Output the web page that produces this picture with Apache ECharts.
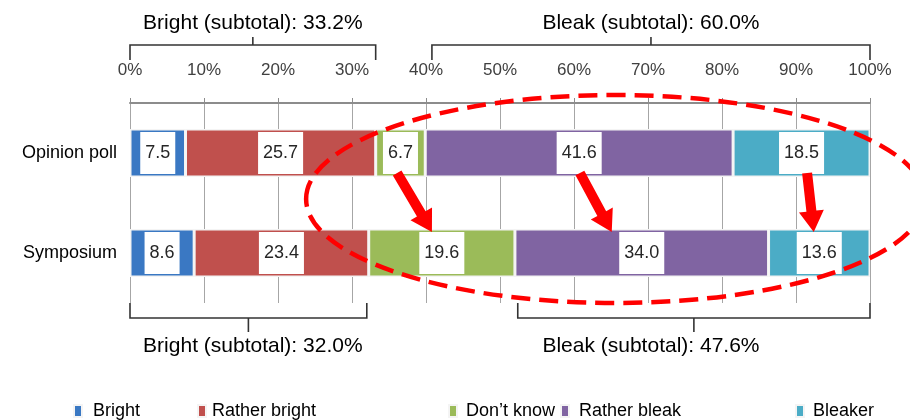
<!DOCTYPE html>
<html><head><meta charset="utf-8">
<script src="https://cdn.jsdelivr.net/npm/echarts@6/dist/echarts.min.js"></script>
<style>html,body{margin:0;padding:0;background:#fff}#c{width:910px;height:420px}</style>
</head><body><div id="c"></div>
<script>
// ---- data ----
const categories = ['Opinion poll', 'Symposium'];
const seriesNames = ['Bright', 'Rather bright', 'Don’t know', 'Rather bleak', 'Bleaker'];
const bright = [7.5, 8.6];
const ratherBright = [25.7, 23.4];
const dontKnow = [6.7, 19.6];
const ratherBleak = [41.6, 34.0];
const bleaker = [18.5, 13.6];
const xTicks = ['0%', '10%', '20%', '30%', '40%', '50%', '60%', '70%', '80%', '90%', '100%'];
const brightSubtotal = [33.2, 32.0];   // [Opinion poll, Symposium]
const bleakSubtotal = [60.0, 47.6];
// annotation arrows (percent positions: from Opinion poll row to Symposium row)
const arrowFrom = [36.1, 60.8, 91.5];
const arrowTo = [40.8, 65.1, 92.4];
// ellipse annotation (percent units)
const ellipseCenter = 65.6;
const ellipseHalfWidth = 41.8;

const colors = ['#3A78C3', '#C0504D', '#9BBB59', '#8064A2', '#4BACC6'];
const raw = [bright, ratherBright, dontKnow, ratherBleak, bleaker];
const totals = categories.map((c, i) => raw.reduce((s, arr) => s + arr[i], 0));
const SANS = "'Liberation Sans',Arial,Helvetica,sans-serif";

const chart = echarts.init(document.getElementById('c'), null, {renderer: 'canvas'});

const legendLeft = [73, 197, 448, 560, 795];
const legendGap = [6, 1, 4, 5, 4];

const option = {
  animation: false,
  backgroundColor: '#fff',
  color: colors,
  grid: {left: 130, right: 40, top: 103, bottom: 117, containLabel: false},
  xAxis: {
    type: 'value', position: 'top', min: 0, max: 100, interval: 10,
    axisLine: {show: true, lineStyle: {color: '#8c8c8c', width: 2}},
    axisTick: {show: true, length: 5, inside: false, lineStyle: {color: '#8c8c8c'}},
    splitLine: {show: true, lineStyle: {color: '#a6a6a6', width: 1}},
    axisLabel: {
      margin: 24, fontSize: 17, fontFamily: SANS, color: '#404040',
      formatter: v => xTicks[Math.round(v / 10)]
    }
  },
  yAxis: {
    type: 'category', inverse: true, data: categories,
    axisLine: {show: false}, axisTick: {show: false}, splitLine: {show: false},
    axisLabel: {margin: 13, fontSize: 18, fontFamily: SANS, color: '#000'}
  },
  legend: seriesNames.map((n, i) => ({
    data: [n], left: legendLeft[i], top: 402, padding: 0,
    icon: 'rect', itemWidth: 8, itemHeight: 12, selectedMode: false,
    textStyle: {fontSize: 18, fontFamily: SANS, color: '#000', lineHeight: 18, padding: [0, 0, 0, legendGap[i]]}
  })),
  series: raw.map((arr, si) => ({
    name: seriesNames[si], type: 'bar', stack: 'total', barWidth: 48,
    data: arr.map((v, i) => v / totals[i] * 100),
    itemStyle: {color: colors[si], borderColor: '#f4f4f4', borderWidth: 1.5},
    label: {
      show: true, position: 'inside',
      formatter: p => raw[p.seriesIndex][p.dataIndex].toFixed(1),
      backgroundColor: '#fff', padding: [12, 5], lineHeight: 18,
      fontSize: 18, fontFamily: SANS, color: '#262626'
    }
  }))
};
chart.setOption(option);

function px(x, ci) { return chart.convertToPixel({gridIndex: 0}, [x, ci]); }

const gTop = 103, gBottom = 303;
function brace(x1, x2, top) {
  const a = px(x1, 0)[0], b = px(x2, 0)[0], m = (a + b) / 2;
  const yL = top ? gTop - 58 : gBottom + 15;
  const yE = top ? gTop - 43 : gBottom;
  const yT = top ? gTop - 66 : gBottom + 29;
  const st = {stroke: '#333', lineWidth: 1.6, fill: null};
  return [
    {type: 'polyline', z: 100, shape: {points: [[a, yE], [a, yL], [b, yL], [b, yE]]}, style: st},
    {type: 'line', z: 100, shape: {x1: m, y1: yL, x2: m, y2: yT}, style: st}
  ];
}
function txt(x, y, s) {
  return {type: 'text', z: 100, x: x, y: y, style: {text: s, fontSize: 21, fontFamily: SANS, fill: '#000', textAlign: 'center', textVerticalAlign: 'middle'}};
}
function arrow(x1, y1, x2, y2) {
  const dx = x2 - x1, dy = y2 - y1, L = Math.hypot(dx, dy), ux = dx / L, uy = dy / L, nx = -uy, ny = ux;
  const hl = 21, sw = 5, hw = 12.5;
  const bx = x2 - ux * hl, by = y2 - uy * hl;
  return {type: 'polygon', z: 110, shape: {points: [
    [x1 + nx * sw, y1 + ny * sw], [bx + nx * sw, by + ny * sw], [bx + nx * hw, by + ny * hw], [x2, y2],
    [bx - nx * hw, by - ny * hw], [bx - nx * sw, by - ny * sw], [x1 - nx * sw, y1 - ny * sw]]},
    style: {fill: '#ff0000'}};
}

const g = [];
const topBrightA = 0, topBrightB = brightSubtotal[0];
const topBleakA = 100 - bleakSubtotal[0], topBleakB = 100;
g.push(...brace(topBrightA, topBrightB, true));
g.push(...brace(topBleakA + 0.8, topBleakB, true));
g.push(...brace(0, brightSubtotal[1], false));
g.push(...brace(100 - bleakSubtotal[1], 100, false));
const midBright = (px(topBrightA, 0)[0] + px(topBrightB, 0)[0]) / 2;
const midBleak = (px(topBleakA + 0.8, 0)[0] + px(topBleakB, 0)[0]) / 2;
g.push(txt(midBright, 23, 'Bright (subtotal): ' + brightSubtotal[0].toFixed(1) + '%'));
g.push(txt(midBleak, 23, 'Bleak (subtotal): ' + bleakSubtotal[0].toFixed(1) + '%'));
g.push(txt(midBright, 346, 'Bright (subtotal): ' + brightSubtotal[1].toFixed(1) + '%'));
g.push(txt(midBleak, 346, 'Bleak (subtotal): ' + bleakSubtotal[1].toFixed(1) + '%'));

const y0 = px(0, 0)[1], y1 = px(0, 1)[1];
const ec = px(ellipseCenter, 0)[0];
const erx = px(ellipseCenter + ellipseHalfWidth, 0)[0] - ec;
g.push({type: 'ellipse', z: 105, shape: {cx: ec, cy: (y0 + y1) / 2 - 4, rx: erx, ry: 104},
  style: {fill: null, stroke: '#ff0000', lineWidth: 4.5, lineDash: [19, 9]}});

for (let i = 0; i < arrowFrom.length; i++) {
  g.push(arrow(px(arrowFrom[i], 0)[0], y0 + 20, px(arrowTo[i], 1)[0], y1 - 21));
}
chart.setOption({graphic: {elements: g}});
</script>
</body></html>
